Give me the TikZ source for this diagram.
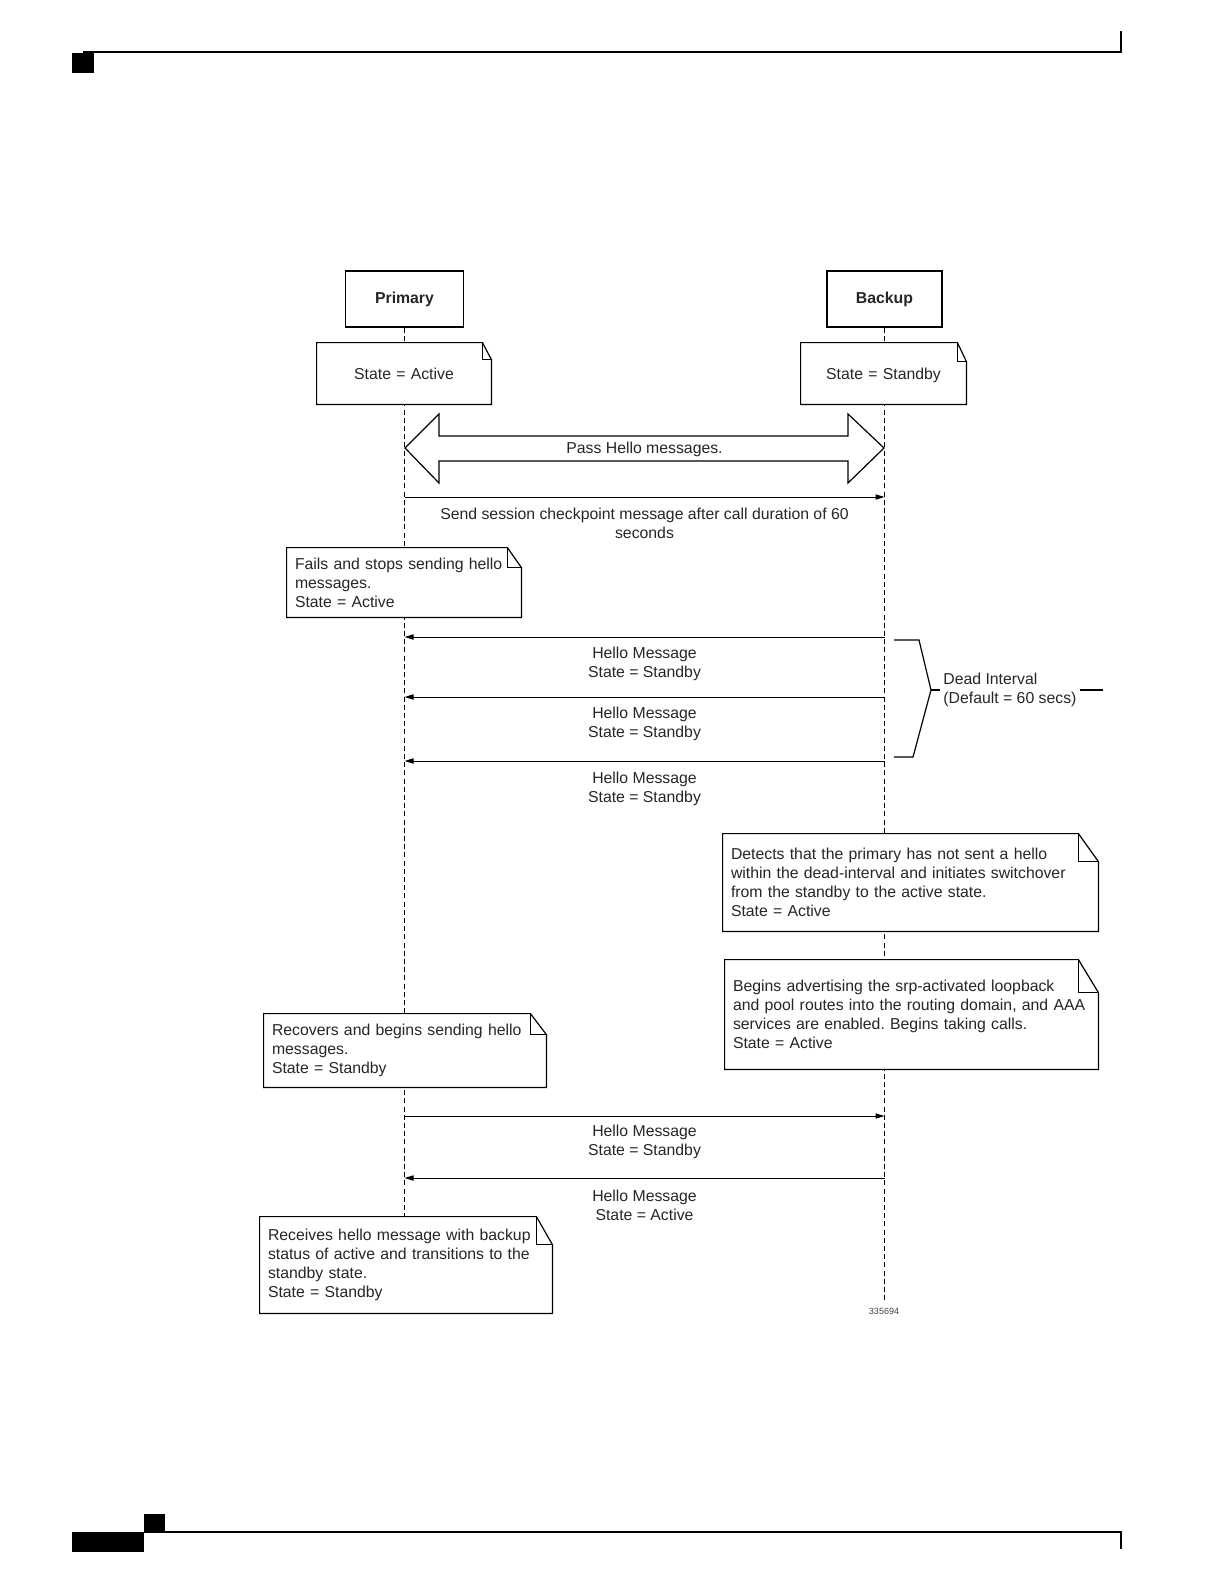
\documentclass[tikz,border=0pt]{standalone}
\usepackage{fontspec}
\setmainfont{Liberation Sans}
\usetikzlibrary{arrows.meta}
\frenchspacing

\tikzset{
  lbl/.style={font=\fontsize{7.9}{9.5}\selectfont, text=black!85, inner sep=0pt},
  actor/.style={draw, line width=0.6pt, fill=white, minimum width=#1, minimum height=28pt,
    font=\fontsize{7.9}{9.5}\selectfont\bfseries, text=black!85},
  note/.style={lbl, fill=white, inner xsep=4pt, inner ysep=0pt, align=left},
  life/.style={line width=0.6pt, dash pattern=on 2.5pt off 1.6pt},
  msg/.style={line width=0.5pt, -{Triangle[length=4.5pt,width=2.6pt]}},
  edge/.style={line width=0.6pt},
}

% folded corner outline round a note node
\newcommand{\foldnote}[3]{%
  \draw[edge] (#1.north west) -- ([xshift=-#2]#1.north east) -- ([yshift=-#3]#1.north east)
    -- (#1.south east) -- (#1.south west) -- cycle;
  \draw[edge] ([xshift=-#2]#1.north east) -- ([xshift=-#2,yshift=-#3]#1.north east)
    -- ([yshift=-#3]#1.north east);
}

\begin{document}
\begin{tikzpicture}[x=0.5pt, y=-0.5pt]
  \useasboundingbox (0,0) rectangle (1224,1584);

  % page header and footer
  \fill (72,53) rectangle (94,73);
  \draw[line width=1pt] (83,52) -- (1121,52) -- (1121,31);
  \fill (72,1532) rectangle (144,1552);
  \fill (144,1514) rectangle (165,1532);
  \draw[line width=1pt] (144,1532) -- (1121,1532) -- (1121,1549);

  % actors and lifelines
  \node[actor=59pt] (prim) at (404.5,299) {Primary};
  \node[actor=57.5pt] (back) at (884.5,299) {Backup};
  \coordinate (primend) at (404.5,1217);
  \coordinate (backend) at (884.5,1300);
  \draw[life] (prim.south) -- (primend);
  \draw[life] (back.south) -- (backend);

  % initial states
  \node[note, align=center, text width=79pt, minimum width=87pt, minimum height=30.5pt, text depth=0pt] (sta) at (404,373.5) {State = Active};
  \foldnote{sta}{4.5pt}{8.5pt}
  \node[note, align=center, text width=74.5pt, minimum width=82.5pt, minimum height=30.5pt, text depth=0pt] (sts) at (883.5,373.5) {State = Standby};
  \foldnote{sts}{4.5pt}{9.5pt}

  % points on the lifelines
  \foreach \n/\y in {0/497, 1/637, 2/697, 3/761, 4/1116, 5/1178}{
    \coordinate (p\n) at (404.5,\y);
    \coordinate (b\n) at (884.5,\y);
  }
  \coordinate (pl) at (405,448);
  \coordinate (br) at (884,448);

  % double arrow for hello exchange
  \draw[edge, fill=white] (pl) -- ([shift={(34,-34)}]pl) -- ([shift={(34,-12)}]pl)
    -- ([shift={(-36,-12)}]br) -- ([shift={(-36,-34)}]br) -- (br)
    -- ([shift={(-36,35)}]br) -- ([shift={(-36,13)}]br) -- ([shift={(34,13)}]pl)
    -- ([shift={(34,35)}]pl) -- cycle;
  \path (pl) -- (br) node[midway, lbl, yshift=-0.5pt] (pass) {Pass Hello messages.};

  % checkpoint
  \draw[msg] (p0) -- (b0) node[midway, yshift=-13.25pt, lbl, align=center] (chk)
    {Send session checkpoint message after call duration of 60\\seconds};

  % primary fails
  \node[note, text width=109pt, minimum width=117pt, minimum height=34.5pt] (fail) at (404,582.5)
    {Fails and stops sending hello\\messages.\\State = Active};
  \foldnote{fail}{7pt}{10pt}

  % hellos from backup
  \draw[msg] (b1) -- (p1) node[midway, yshift=-13.25pt, lbl, align=center] (h1) {Hello Message\\State = Standby};
  \draw[msg] (b2) -- (p2) node[midway, yshift=-13.25pt, lbl, align=center] (h2) {Hello Message\\State = Standby};
  \draw[msg] (b3) -- (p3) node[midway, yshift=-13.75pt, lbl, align=center] (h3) {Hello Message\\State = Standby};

  % dead interval bracket
  \node[lbl, inner sep=1.5pt, anchor=west, align=left] (dead) at (940,690) {Dead Interval\\(Default = 60 secs)};
  \coordinate (deadend) at (1103,690);
  \draw[edge] (894,640) -- (919,640) -- (931,690) -- (913,757) -- (894,757);
  \draw[edge] (931,690) -- (dead.west);
  \draw[edge] (dead.east) -- (deadend);

  % switchover on backup
  \node[note, text width=179.5pt, minimum width=187.5pt, minimum height=48.5pt] (detect) at (910.5,882.5)
    {Detects that the primary has not sent a hello\\within the dead-interval and initiates switchover\\from the standby to the active state.\\State = Active};
  \foldnote{detect}{10pt}{14pt}
  \node[note, text width=178.5pt, minimum width=186.5pt, minimum height=54.5pt] (begin) at (911.5,1014.5)
    {Begins advertising the srp-activated loopback\\and pool routes into the routing domain, and AAA\\services are enabled. Begins taking calls.\\State = Active};
  \foldnote{begin}{10pt}{16.5pt}

  % primary recovers
  \node[note, text width=133pt, minimum width=141pt, minimum height=36.5pt] (recover) at (405,1050.5)
    {Recovers and begins sending hello\\messages.\\State = Standby};
  \foldnote{recover}{8pt}{10.5pt}

  \draw[msg] (p4) -- (b4) node[midway, yshift=-12.75pt, lbl, align=center] (h4) {Hello Message\\State = Standby};
  \draw[msg] (b5) -- (p5) node[midway, yshift=-13.75pt, lbl, align=center] (h5) {Hello Message\\State = Active};

  \node[note, text width=138pt, minimum width=146pt, minimum height=48pt] (receive) at (406,1265)
    {Receives hello message with backup\\status of active and transitions to the\\standby state.\\State = Standby};
  \foldnote{receive}{8pt}{14pt}

  % figure number
  \node[font=\fontsize{4.5}{5}\selectfont, text=black!75, inner sep=0pt] (fignum) at (884,1311) {335694};
\end{tikzpicture}
\end{document}
